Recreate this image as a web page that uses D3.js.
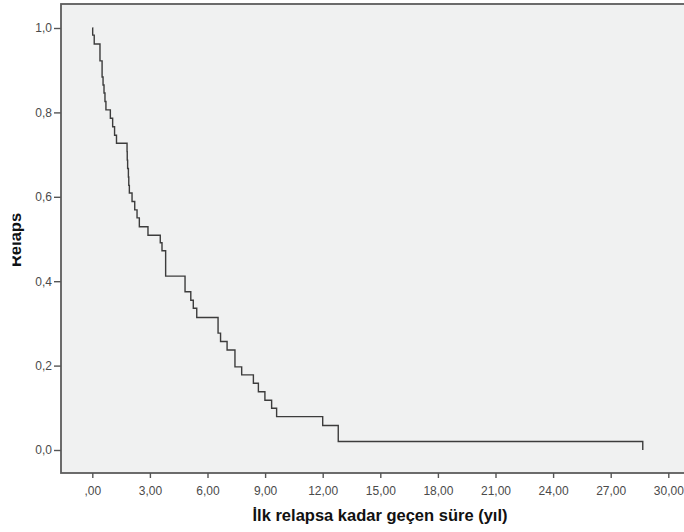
<!DOCTYPE html>
<html>
<head>
<meta charset="utf-8">
<script src="https://cdn.jsdelivr.net/npm/d3@7"></script>
<style>
  html, body { margin: 0; padding: 0; background: #ffffff; }
  svg { display: block; }
</style>
</head>
<body>
<svg id="chart" width="684" height="532"></svg>
<script>
// Kaplan–Meier estimate: time to first relapse (years)
const times = [0, 0.02, 0.10, 0.40, 0.51, 0.56, 0.61, 0.66, 0.71, 0.94, 1.06, 1.16, 1.26,
  1.81, 1.82, 1.84, 1.88, 1.90, 1.93, 2.07, 2.21, 2.33, 2.45, 2.90, 3.54, 3.63, 3.82,
  4.83, 5.13, 5.26, 5.44, 6.55, 6.68, 7.02, 7.43, 7.78, 8.39, 8.65, 8.99, 9.34, 9.60,
  12.00, 12.81, 28.67];
const survival = [1.000, 0.983, 0.962, 0.922, 0.884, 0.865, 0.846, 0.826, 0.806, 0.786, 0.766, 0.746, 0.727,
  0.707, 0.687, 0.667, 0.647, 0.627, 0.609, 0.589, 0.569, 0.550, 0.529, 0.509, 0.491, 0.472, 0.412,
  0.375, 0.355, 0.336, 0.314, 0.277, 0.257, 0.237, 0.197, 0.178, 0.158, 0.138, 0.118, 0.099, 0.079,
  0.058, 0.020, 0.000];

const xTicks = [0, 3, 6, 9, 12, 15, 18, 21, 24, 27, 30];
const xTickLabels = [",00", "3,00", "6,00", "9,00", "12,00", "15,00", "18,00", "21,00", "24,00", "27,00", "30,00"];
const yTicks = [0, 0.2, 0.4, 0.6, 0.8, 1.0];
const yTickLabels = ["0,0", "0,2", "0,4", "0,6", "0,8", "1,0"];

const xTitle = "İlk relapsa kadar geçen süre (yıl)";
const yTitle = "Relaps";

const svg = d3.select("#chart");
const tickFont = "'Liberation Sans', Arial, sans-serif";

const x = d3.scaleLinear().domain([0, 30]).range([92.3, 668.3]);
const y = d3.scaleLinear().domain([0, 1]).range([450, 28]);

// plot area frame (extends past the right edge of the canvas)
const frame = { left: 61, top: 4, right: 700, bottom: 473 };
svg.append("rect")
  .attr("x", frame.left).attr("y", frame.top)
  .attr("width", frame.right - frame.left).attr("height", frame.bottom - frame.top)
  .attr("fill", "#f0f1f1")
  .attr("stroke", "#5c5c5c").attr("stroke-width", 1.8);

// x axis
const xAxis = d3.axisBottom(x)
  .tickValues(xTicks)
  .tickSize(5)
  .tickPadding(8)
  .tickFormat((d, i) => xTickLabels[i]);
const gx = svg.append("g").attr("transform", `translate(0,${frame.bottom})`).call(xAxis);
gx.select(".domain").remove();
gx.selectAll(".tick line").attr("stroke", "#555").attr("stroke-width", 1.4);
gx.selectAll(".tick text")
  .attr("font-family", tickFont).attr("font-size", 12).attr("fill", "#4a4a4a");

// y axis
const yAxis = d3.axisLeft(y)
  .tickValues(yTicks)
  .tickSize(7)
  .tickPadding(2)
  .tickFormat((d, i) => yTickLabels[i]);
const gy = svg.append("g").attr("transform", `translate(${frame.left},0)`).call(yAxis);
gy.select(".domain").remove();
gy.selectAll(".tick line").attr("stroke", "#555").attr("stroke-width", 1.4);
gy.selectAll(".tick text")
  .attr("font-family", tickFont).attr("font-size", 12).attr("fill", "#4a4a4a");

// survival step curve
const pts = times.map((t, i) => [t, survival[i]]);
const line = d3.line()
  .x(d => x(d[0]))
  .y(d => y(d[1]))
  .curve(d3.curveStepAfter);
svg.append("path")
  .datum(pts)
  .attr("d", line)
  .attr("fill", "none")
  .attr("stroke", "#3c3c3c")
  .attr("stroke-width", 1.4);

// axis titles
svg.append("text")
  .attr("x", 380).attr("y", 521)
  .attr("text-anchor", "middle")
  .attr("font-family", tickFont)
  .attr("font-weight", "bold")
  .attr("font-size", 16.5)
  .attr("fill", "#111")
  .text(xTitle);

svg.append("clipPath").attr("id", "ytitle-clip")
  .append("rect").attr("x", 12.5).attr("y", 0).attr("width", 40).attr("height", 532);
svg.append("g").attr("clip-path", "url(#ytitle-clip)")
  .append("text")
  .attr("transform", "translate(21,240) rotate(-90)")
  .attr("text-anchor", "middle")
  .attr("font-family", tickFont)
  .attr("font-weight", "bold")
  .attr("font-size", 16.5)
  .attr("fill", "#111")
  .text(yTitle);
</script>
</body>
</html>
